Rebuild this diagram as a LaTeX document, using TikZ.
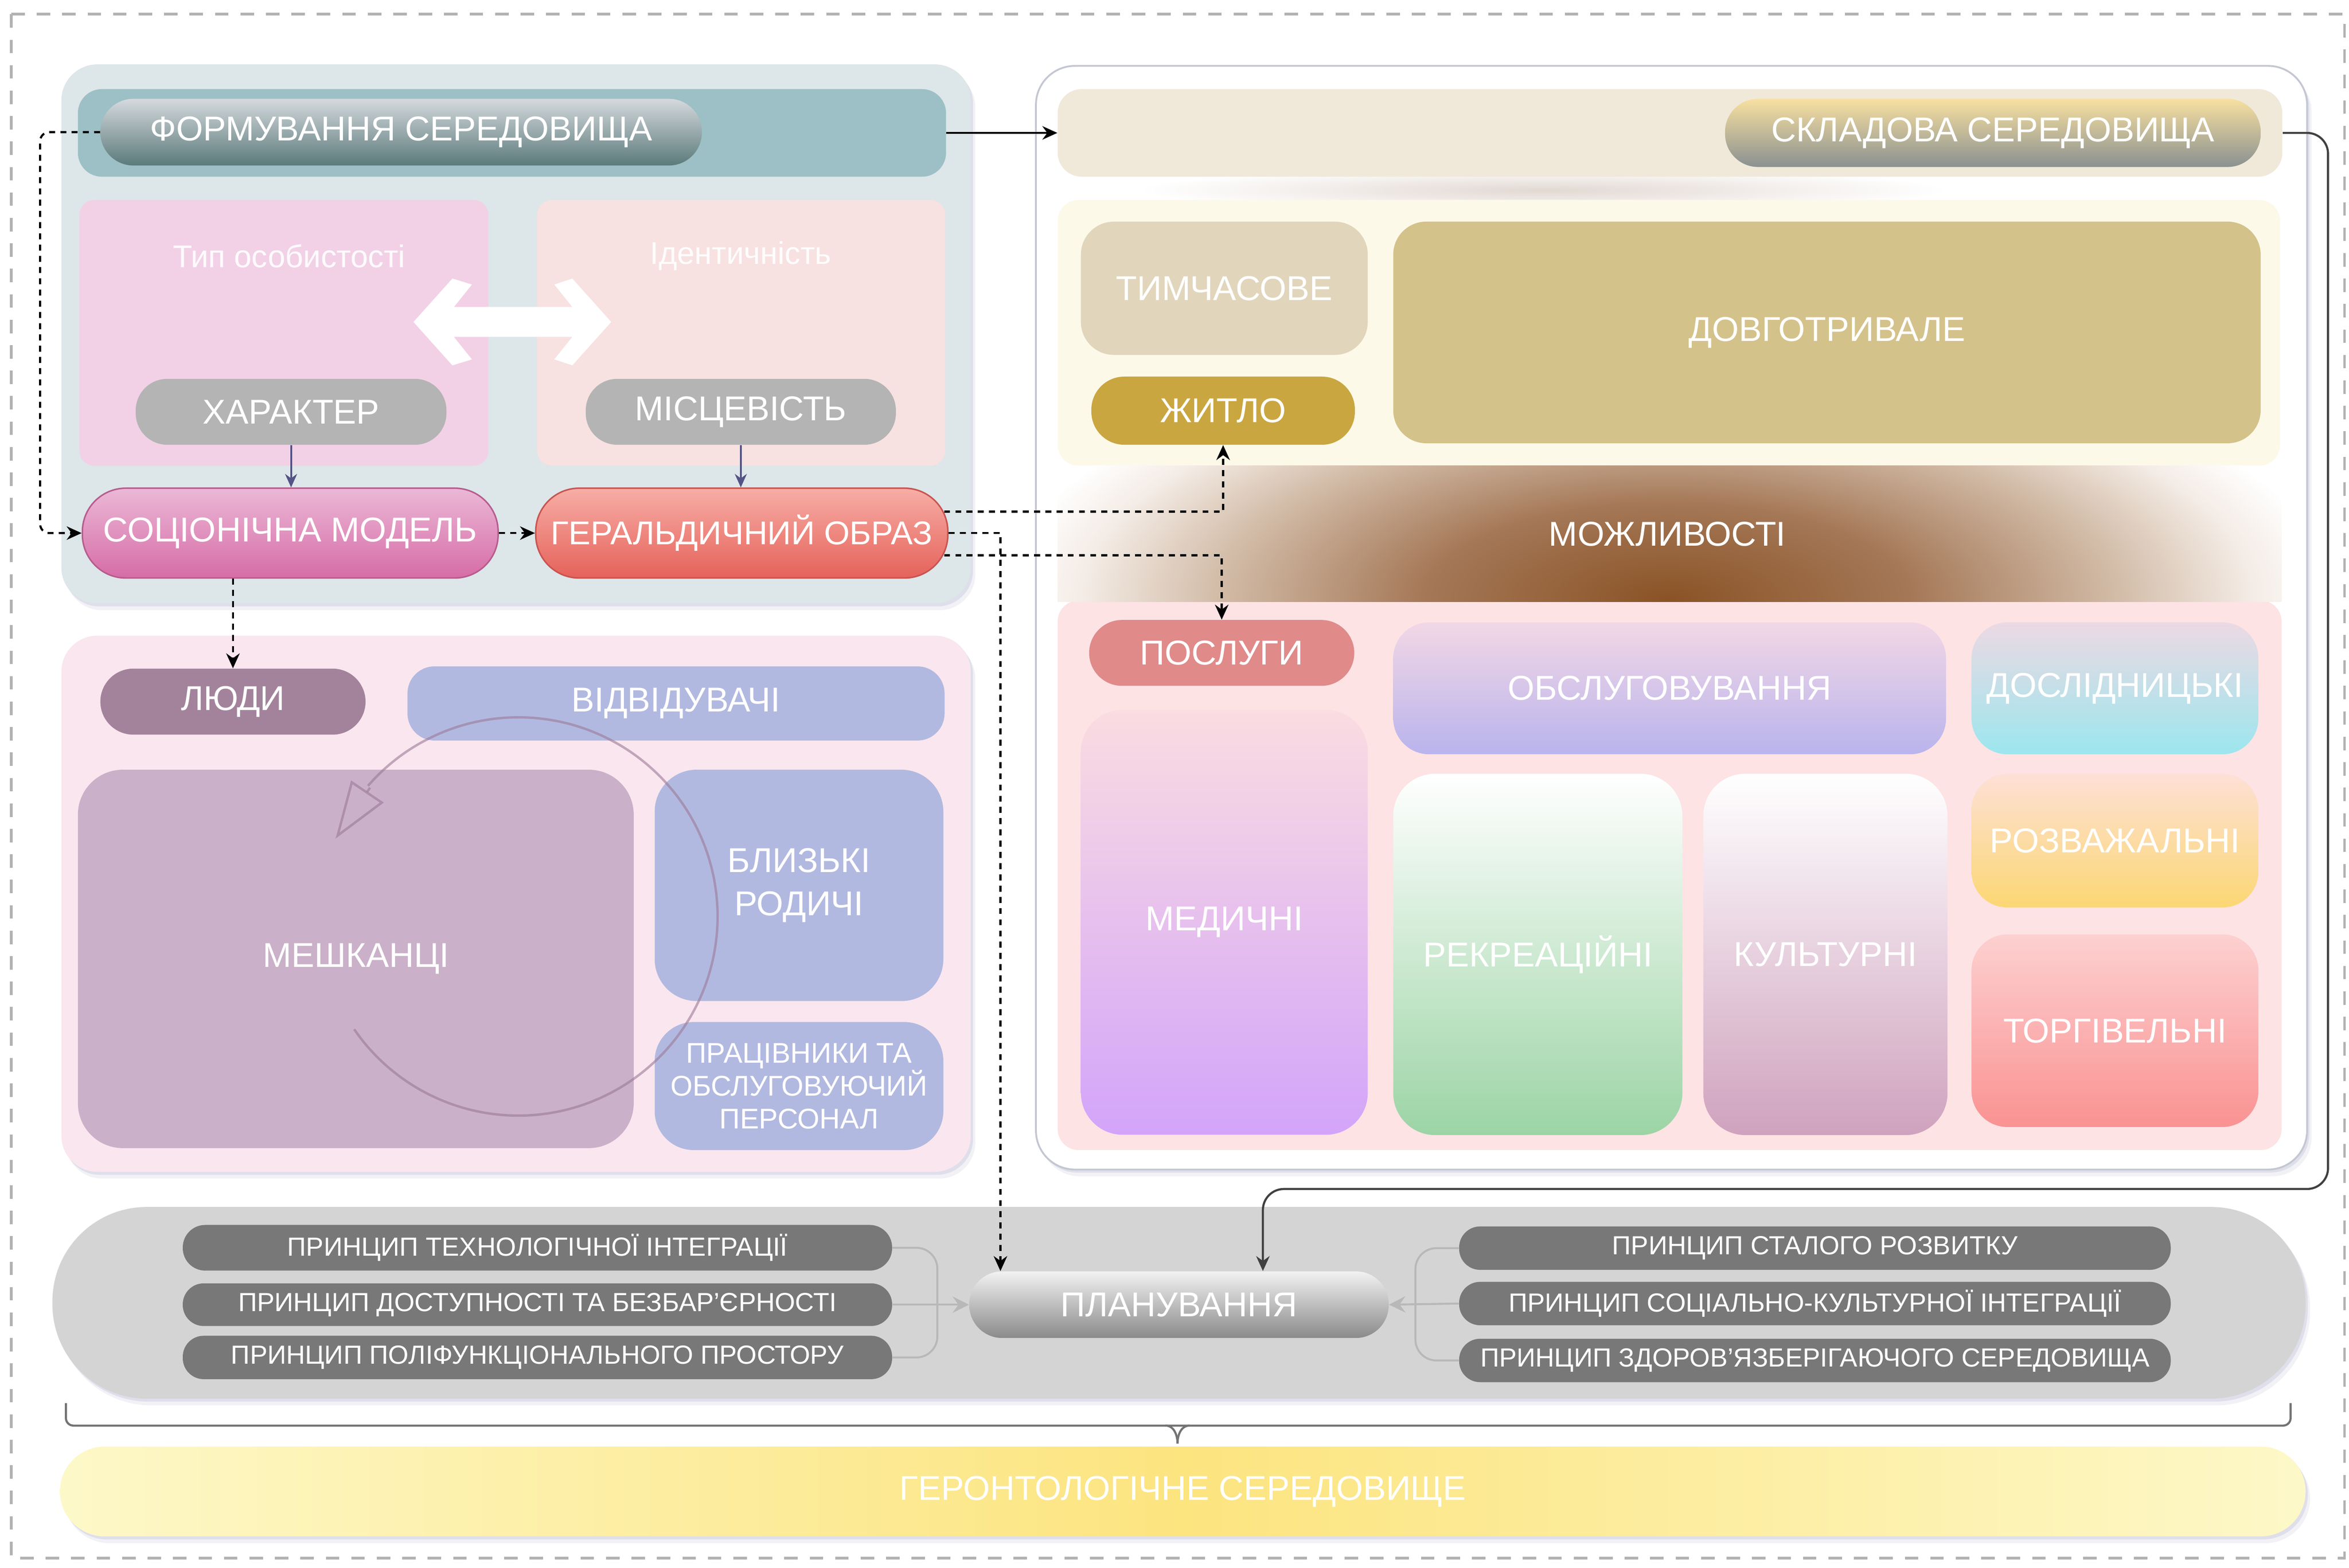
\documentclass[tikz,border=0pt]{standalone}
\usepackage{fontspec}
\setmainfont{Liberation Sans}
\usetikzlibrary{arrows.meta,shadows,calc}
\definecolor{tealbar}{HTML}{9CC0C5}
\definecolor{panelA}{HTML}{DDE6E8}
\definecolor{pinkA}{HTML}{F2D1E7}
\definecolor{pinkB}{HTML}{F7E1E1}
\definecolor{grayA}{HTML}{B4B4B4}
\definecolor{socioTop}{HTML}{EBB8D6}
\definecolor{socioBot}{HTML}{D66CA6}
\definecolor{socioDraw}{HTML}{B75C8E}
\definecolor{geralTop}{HTML}{F7AEA6}
\definecolor{geralBot}{HTML}{E5625A}
\definecolor{geralDraw}{HTML}{C85450}
\definecolor{formTop}{HTML}{D5D9DD}
\definecolor{formBot}{HTML}{5B7A7B}
\definecolor{lyudyc}{HTML}{A3839C}
\definecolor{vidvc}{HTML}{B2B9E0}
\definecolor{meshc}{HTML}{CAB0C8}
\definecolor{panelPink}{HTML}{FAE6EE}
\definecolor{beige}{HTML}{F0E9DA}
\definecolor{skladTop}{HTML}{F8E0A0}
\definecolor{skladBot}{HTML}{8A9191}
\definecolor{yellowArea}{HTML}{FDF9E9}
\definecolor{tymchc}{HTML}{E1D6BC}
\definecolor{zhytloc}{HTML}{C9A640}
\definecolor{dovhc}{HTML}{D4C28B}
\definecolor{pinkArea}{HTML}{FDE3E4}
\definecolor{poslc}{HTML}{E08A8A}
\definecolor{obslTop}{HTML}{F2D7E6}
\definecolor{obslBot}{HTML}{B9B4EC}
\definecolor{doslTop}{HTML}{ECD9E3}
\definecolor{doslBot}{HTML}{9CE6EE}
\definecolor{medTop}{HTML}{FADCE1}
\definecolor{medBot}{HTML}{D3A4FA}
\definecolor{rekrBot}{HTML}{9CD4A5}
\definecolor{kultBot}{HTML}{CFA2BE}
\definecolor{rozvTop}{HTML}{FDE0D6}
\definecolor{rozvBot}{HTML}{FCD773}
\definecolor{torhTop}{HTML}{FDD0D0}
\definecolor{torhBot}{HTML}{FA9292}
\definecolor{planTop}{HTML}{F2F2F2}
\definecolor{planBot}{HTML}{8A8A8A}
\definecolor{princ}{HTML}{787878}
\definecolor{graypanel}{HTML}{D4D4D4}
\definecolor{yelA}{HTML}{FDF8C8}
\definecolor{yelB}{HTML}{FCE47F}
\definecolor{shadowc}{HTML}{8C90B8}
\definecolor{brA}{HTML}{8A5326}
\definecolor{brB}{HTML}{A47756}
\definecolor{brC}{HTML}{D3BDA9}
\definecolor{brD}{HTML}{F4ECE6}
\definecolor{panelBorder}{HTML}{C4C7D2}
\definecolor{circc}{HTML}{9C7A98}
\definecolor{hdrshade}{HTML}{E2D8D2}
\pgfdeclareradialshading{brownglow}{\pgfpoint{0bp}{0bp}}{color(0bp)=(brA);color(9bp)=(brB);color(17bp)=(brC);color(22bp)=(brD);color(25bp)=(white);color(50bp)=(white)}
\newcommand\boxnode[7]{%
  \pgfmathsetmacro\myBW{#5-(#3)}%
  \pgfmathsetmacro\myBH{#6-(#4)}%
  \pgfmathsetmacro\myCX{((#3)+(#5))/2}%
  \pgfmathsetmacro\myCY{((#4)+(#6))/2}%
  \node[#2, minimum width=\myBW pt, minimum height=\myBH pt] (#1) at (\myCX,\myCY) {#7};}
\tikzset{
  lab/.style={text=white, inner sep=0pt, align=center, font=\fontsize{23}{27}\selectfont},
  rbox/.style={lab, rectangle, rounded corners=#1},
  rbox/.default=20,
  sml/.style={font=\fontsize{17.5}{20}\selectfont},
  softshadow/.style={drop shadow={shadow xshift=1.5pt, shadow yshift=-2pt, opacity=.18, fill=shadowc},
                     drop shadow={shadow xshift=3pt, shadow yshift=-4.5pt, opacity=.12, fill=shadowc}},
  dconn/.style={black, line width=1.4pt, dash pattern=on 4pt off 3.5pt, -{Stealth[length=10pt,width=9pt]}},
  sconn/.style={black, line width=1.4pt, -{Stealth[length=10pt,width=9pt]}},
  gconn/.style={draw=black!28, line width=1.3pt},
  bluearr/.style={draw=black!45!blue!35!gray, line width=1.3pt, -{Stealth[length=9pt,width=8pt]}},
  bracel/.style={draw=black!55, line width=1.4pt},
}
\begin{document}
\begin{tikzpicture}[x=1pt,y=-1pt]
\useasboundingbox (0,0) rectangle (1568,1047);
\fill[white] (0,0) rectangle (1568,1047);
% outer dashed frame
\draw[draw=black!30, line width=1.8pt, dash pattern=on 9pt off 8pt] (7.5,9.5) rectangle (1565,1040.5);

% panels
\path[fill=panelA, rounded corners=24, softshadow] (41,43) rectangle (648,403);
\path[fill=panelPink, rounded corners=24, softshadow] (41,424.5) rectangle (648,782.5);
\path[fill=white, draw=panelBorder, line width=1.2pt, rounded corners=26, softshadow] (691.5,44) rectangle (1540,781);
\path[fill=graypanel, rounded corners=63, softshadow] (35,806) rectangle (1539,934);

% right panel inner areas
\shade[inner color=hdrshade, outer color=white] (760,112) rectangle (1300,142);
\path[fill=yellowArea, rounded corners=14] (706,133.5) rectangle (1522,311);
\path[fill=pinkArea, rounded corners=14] (706,401) rectangle (1523,768);
\begin{scope}
  \clip (706,311) rectangle (1523,402);
  \shade[shading=brownglow] (668,225) rectangle (1558,575);
\end{scope}

% ---------- left top panel ----------
\boxnode{formhdr}{rectangle, rounded corners=16, fill=tealbar}{52}{59.5}{631.5}{118}{}
\boxnode{form}{rbox=22, top color=formTop, bottom color=formBot}{67}{66}{468.5}{110.5}{ФОРМУВАННЯ СЕРЕДОВИЩА}
\boxnode{pinkL}{rectangle, rounded corners=10, fill=pinkA}{53}{133.5}{326}{311}{}
\boxnode{pinkR}{rectangle, rounded corners=10, fill=pinkB}{358.5}{133.5}{631}{311}{}
\node[lab, text opacity=.9, font=\fontsize{21}{25}\selectfont] (tip) at (193,171) {Тип особистості};
\node[lab, text opacity=.9, font=\fontsize{21}{25}\selectfont] (ident) at (494.5,171) {Ідентичність};
\fill[white] (276,215) -- (302,186) -- (315,190) -- (303,205) -- (382,205) -- (370,190) -- (382,186)
  -- (408,215) -- (382,244) -- (370,240) -- (382,225) -- (303,225) -- (315,240) -- (302,244) -- cycle;
\boxnode{khar}{rbox=21, fill=grayA}{90.6}{253}{298}{297}{ХАРАКТЕР}
\boxnode{misc}{rbox=21, fill=grayA}{391}{253}{598}{297}{МІСЦЕВІСТЬ}
\boxnode{socio}{rbox=29, top color=socioTop, bottom color=socioBot, draw=socioDraw, line width=1pt}{55}{326}{332.5}{386}{СОЦІОНІЧНА МОДЕЛЬ}
\boxnode{geral}{rbox=29, top color=geralTop, bottom color=geralBot, draw=geralDraw, line width=1pt, font=\fontsize{22}{26}\selectfont}{357.6}{326}{632.7}{386}{ГЕРАЛЬДИЧНИЙ ОБРАЗ}

% ---------- left bottom panel ----------
\boxnode{lyudy}{rbox=22, fill=lyudyc}{67}{446.5}{244}{490.6}{ЛЮДИ}
\boxnode{vidv}{rbox=18, fill=vidvc}{272}{445}{630.5}{494.5}{ВІДВІДУВАЧІ}
\boxnode{mesh}{rbox=30, fill=meshc}{52}{514}{423}{766.7}{МЕШКАНЦІ}
\boxnode{blyz}{rbox=28, fill=vidvc, font=\fontsize{23}{29}\selectfont}{437}{514}{629.7}{668.5}{БЛИЗЬКІ\\РОДИЧІ}
\boxnode{prac}{rbox=26, fill=vidvc, font=\fontsize{19}{22}\selectfont}{437}{682.5}{629.7}{768}{ПРАЦІВНИКИ ТА\\ОБСЛУГОВУЮЧИЙ\\ПЕРСОНАЛ}

% ---------- right panel ----------
\boxnode{skladhdr}{rectangle, rounded corners=16, fill=beige}{706}{59.5}{1523.5}{118}{}
\boxnode{sklad}{rbox=22, top color=skladTop, bottom color=skladBot}{1151.5}{66}{1509}{111.5}{СКЛАДОВА СЕРЕДОВИЩА}
\boxnode{tymch}{rbox=22, fill=tymchc}{721.5}{148}{913}{237}{ТИМЧАСОВЕ}
\boxnode{zhytlo}{rbox=22, fill=zhytloc}{728.5}{251.5}{904.4}{297}{ЖИТЛО}
\boxnode{dovh}{rbox=22, fill=dovhc}{930}{148}{1509}{296}{ДОВГОТРИВАЛЕ}
\node[lab] (mozh) at (1113,356.5) {МОЖЛИВОСТІ};
\boxnode{posl}{rbox=22, fill=poslc}{727}{414}{904}{458}{ПОСЛУГИ}
\boxnode{obsl}{rbox=24, top color=obslTop, bottom color=obslBot}{930}{415.6}{1299}{503.7}{ОБСЛУГОВУВАННЯ}
\boxnode{dosl}{rbox=24, top color=doslTop, bottom color=doslBot}{1316}{415.6}{1507.5}{503.7}{ДОСЛІДНИЦЬКІ}
\boxnode{med}{rbox=28, top color=medTop, bottom color=medBot}{721.5}{474}{913}{757.8}{МЕДИЧНІ}
\boxnode{rekr}{rbox=28, top color=white, bottom color=rekrBot}{930}{516.7}{1123}{758}{РЕКРЕАЦІЙНІ}
\boxnode{kult}{rbox=28, top color=white, bottom color=kultBot}{1137}{516.7}{1300}{758}{КУЛЬТУРНІ}
\boxnode{rozv}{rbox=24, top color=rozvTop, bottom color=rozvBot}{1316}{516.7}{1507.5}{606}{РОЗВАЖАЛЬНІ}
\boxnode{torh}{rbox=24, top color=torhTop, bottom color=torhBot}{1316}{624}{1507.5}{752.6}{ТОРГІВЕЛЬНІ}

% ---------- bottom ----------
\boxnode{plan}{rbox=22, top color=planTop, bottom color=planBot}{647}{849}{927}{893.5}{ПЛАНУВАННЯ}
\boxnode{p1}{rbox=15, fill=princ, sml}{122}{818}{595.5}{848.5}{ПРИНЦИП ТЕХНОЛОГІЧНОЇ ІНТЕГРАЦІЇ}
\boxnode{p2}{rbox=14, fill=princ, sml}{122}{857}{595.5}{885.5}{ПРИНЦИП ДОСТУПНОСТІ ТА БЕЗБАР'ЄРНОСТІ}
\boxnode{p3}{rbox=14, fill=princ, sml}{122}{892}{595.5}{921}{ПРИНЦИП ПОЛІФУНКЦІОНАЛЬНОГО ПРОСТОРУ}
\boxnode{p4}{rbox=14, fill=princ, sml}{974}{819}{1449}{848}{ПРИНЦИП СТАЛОГО РОЗВИТКУ}
\boxnode{p5}{rbox=14, fill=princ, sml}{974}{856}{1449}{885}{ПРИНЦИП СОЦІАЛЬНО-КУЛЬТУРНОЇ ІНТЕГРАЦІЇ}
\boxnode{p6}{rbox=14, fill=princ, sml}{974}{894}{1449}{923}{ПРИНЦИП ЗДОРОВ'ЯЗБЕРІГАЮЧОГО СЕРЕДОВИЩА}
\boxnode{geront}{rbox=30, left color=yelA, right color=yelA, middle color=yelB, softshadow}{40}{966}{1539}{1026}{ГЕРОНТОЛОГІЧНЕ СЕРЕДОВИЩЕ}

% brace
\draw[bracel, rounded corners=5] (44,937) -- (44,952) -- (1529,952) -- (1529,937);
\draw[bracel] (778,952) to[out=0,in=90] (786,964);
\draw[bracel] (794,952) to[out=180,in=90] (786,964);

% ---------- connectors ----------
\draw[dconn, rounded corners=6] (form.west) -- ++(-40,0) |- (socio.west);
\draw[dconn] (socio.east) -- (geral.west);
\draw[dconn] (lyudy.north |- socio.south) -- (lyudy.north);
\draw[bluearr] (khar.south) -- (khar.south |- socio.north);
\draw[bluearr] (misc.south) -- (misc.south |- geral.north);
\draw[dconn] ($(geral.east)+(-3,-14.3)$) -| (zhytlo.south);
\draw[dconn] ($(geral.east)+(-3,14.8)$) -| (posl.north);
\draw[dconn] (geral.east) -| ($(plan.north west)+(21,0)$);
\draw[sconn] (formhdr.east) -- (skladhdr.west);
\coordinate (c1) at (1554,794);
\draw[sconn, draw=black!75, rounded corners=14] (skladhdr.east) -| (c1) -| ($(plan.north)+(56,0)$);
% principles -> planning
\draw[gconn, rounded corners=14] (p1.east) -- ++(30,0) |- (p3.east);
\draw[gconn, -{Stealth[length=11pt,width=11pt,inset=4pt]}] (p2.east) -- (plan.west);
\draw[gconn, rounded corners=14] (p4.west) -- ++(-29,0) |- (p6.west);
\draw[gconn, -{Stealth[length=11pt,width=11pt,inset=4pt]}] (p5.west) -- (plan.east);

% circular arrow
\draw[draw=circc, draw opacity=.6, line width=1.6pt] plot[domain=145.5:-139, samples=90, smooth] ({346+133*cos(\x)},{612+133*sin(\x)});
\coordinate (cb) at (247,526);
\coordinate (ct) at (224,560);
\draw[draw=circc, draw opacity=.6, line width=1.6pt, -{Triangle[open,length=38pt,width=26pt]}] (cb) -- (ct);
\end{tikzpicture}
\end{document}
